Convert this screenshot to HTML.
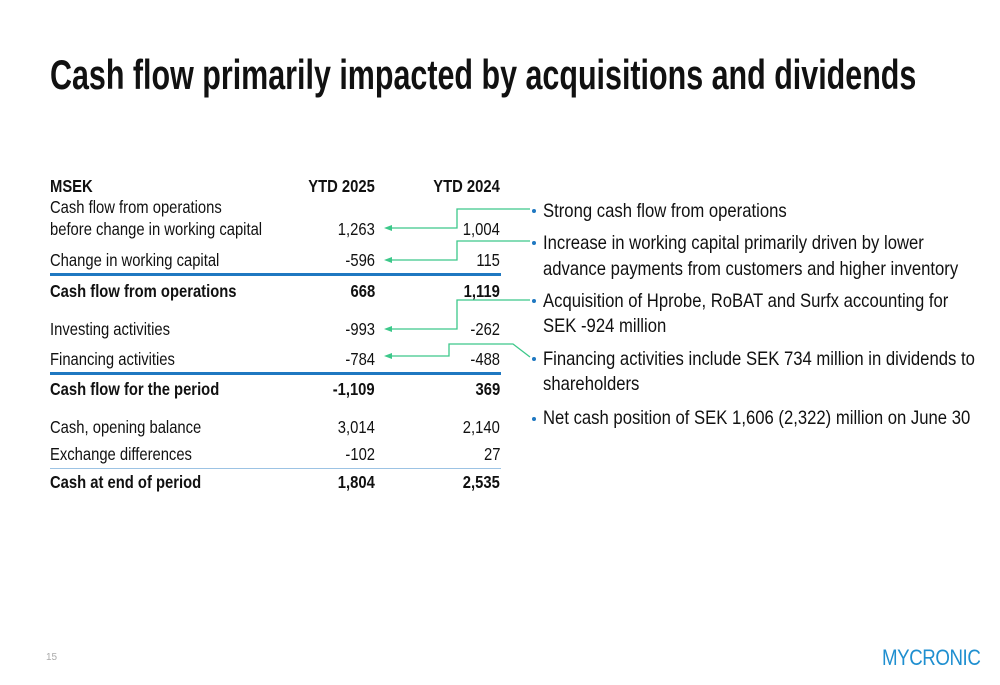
<!DOCTYPE html>
<html><head><meta charset="utf-8"><style>
body{margin:0;width:1000px;height:685px;background:#fff;position:relative;overflow:hidden;font-family:"Liberation Sans",sans-serif;color:#111}
.t{position:absolute;white-space:nowrap;transform:scaleX(.845);transform-origin:0 50%;font-size:17.5px;line-height:20px}
.r{position:absolute;white-space:nowrap;transform:scaleX(.845);transform-origin:100% 50%;font-size:17.5px;line-height:20px;text-align:right}
.b{font-weight:bold}
.hl{position:absolute;left:50px;width:451px;height:3px;background:#1f78c1}
.bl{position:absolute;font-size:19.5px;line-height:26px;white-space:nowrap;transform:scaleX(.855);transform-origin:0 50%;left:543px}
.dot{position:absolute;left:532px;width:4px;height:4px;border-radius:50%;background:#1f78c1}
</style></head><body>
<div style="position:absolute;left:50px;top:51px;font-size:42px;font-weight:bold;white-space:nowrap;transform:scaleX(.725);transform-origin:0 0">Cash flow primarily impacted by acquisitions and dividends</div>

<div>
<div class="t b" style="left:50px;top:176px">MSEK</div>
<div class="r b" style="right:625px;top:176px">YTD 2025</div>
<div class="r b" style="right:500px;top:176px">YTD 2024</div>

<div class="t" style="left:50px;top:197px">Cash flow from operations</div>
<div class="t" style="left:50px;top:219px">before change in working capital</div>
<div class="r" style="right:625px;top:219px">1,263</div>
<div class="r" style="right:500px;top:219px">1,004</div>

<div class="t" style="left:50px;top:250px">Change in working capital</div>
<div class="r" style="right:625px;top:250px">-596</div>
<div class="r" style="right:500px;top:250px">115</div>
<div class="hl" style="top:273px"></div>

<div class="t b" style="left:50px;top:281px">Cash flow from operations</div>
<div class="r b" style="right:625px;top:281px">668</div>
<div class="r b" style="right:500px;top:281px">1,119</div>

<div class="t" style="left:50px;top:319px">Investing activities</div>
<div class="r" style="right:625px;top:319px">-993</div>
<div class="r" style="right:500px;top:319px">-262</div>

<div class="t" style="left:50px;top:349px">Financing activities</div>
<div class="r" style="right:625px;top:349px">-784</div>
<div class="r" style="right:500px;top:349px">-488</div>
<div class="hl" style="top:372px"></div>

<div class="t b" style="left:50px;top:379px">Cash flow for the period</div>
<div class="r b" style="right:625px;top:379px">-1,109</div>
<div class="r b" style="right:500px;top:379px">369</div>

<div class="t" style="left:50px;top:417px">Cash, opening balance</div>
<div class="r" style="right:625px;top:417px">3,014</div>
<div class="r" style="right:500px;top:417px">2,140</div>

<div class="t" style="left:50px;top:444px">Exchange differences</div>
<div class="r" style="right:625px;top:444px">-102</div>
<div class="r" style="right:500px;top:444px">27</div>
<div class="hl" style="top:468px;height:1px;background:#9cc3e4"></div>

<div class="t b" style="left:50px;top:472px">Cash at end of period</div>
<div class="r b" style="right:625px;top:472px">1,804</div>
<div class="r b" style="right:500px;top:472px">2,535</div>
</div>

<svg width="1000" height="685" style="position:absolute;left:0;top:0">
<g fill="none" stroke="#3cc88a" stroke-width="1.3">
<polyline points="530,209 457,209 457,228 390,228"/>
<polyline points="530,241 457,241 457,260 390,260"/>
<polyline points="530,300 457,300 457,329 390,329"/>
<polyline points="530,357 513,344 449,344 449,356 390,356"/>
</g>
<g fill="#3cc88a">
<polygon points="384,228 392,225 392,231"/>
<polygon points="384,260 392,257 392,263"/>
<polygon points="384,329 392,326 392,332"/>
<polygon points="384,356 392,353 392,359"/>
</g>
</svg>

<div>
<div class="dot" style="top:209px"></div>
<div class="bl" style="top:198px">Strong cash flow from operations</div>
<div class="dot" style="top:241px"></div>
<div class="bl" style="top:230px">Increase in working capital primarily driven by lower</div>
<div class="bl" style="top:256px">advance payments from customers and higher inventory</div>
<div class="dot" style="top:299px"></div>
<div class="bl" style="top:288px">Acquisition of Hprobe, RoBAT and Surfx accounting for</div>
<div class="bl" style="top:313px">SEK -924 million</div>
<div class="dot" style="top:357px"></div>
<div class="bl" style="top:346px">Financing activities include SEK 734 million in dividends to</div>
<div class="bl" style="top:371px">shareholders</div>
<div class="dot" style="top:417px"></div>
<div class="bl" style="top:405px">Net cash position of SEK 1,606 (2,322) million on June 30</div>
</div>

<div style="position:absolute;left:46px;top:652px;font-size:10px;color:#aaa">15</div>
<div style="position:absolute;left:882px;top:645px;font-size:22px;color:#1f8fd0;letter-spacing:-0.5px;transform:scaleX(.85);transform-origin:0 0;white-space:nowrap">MYCRONIC</div>
</body></html>
